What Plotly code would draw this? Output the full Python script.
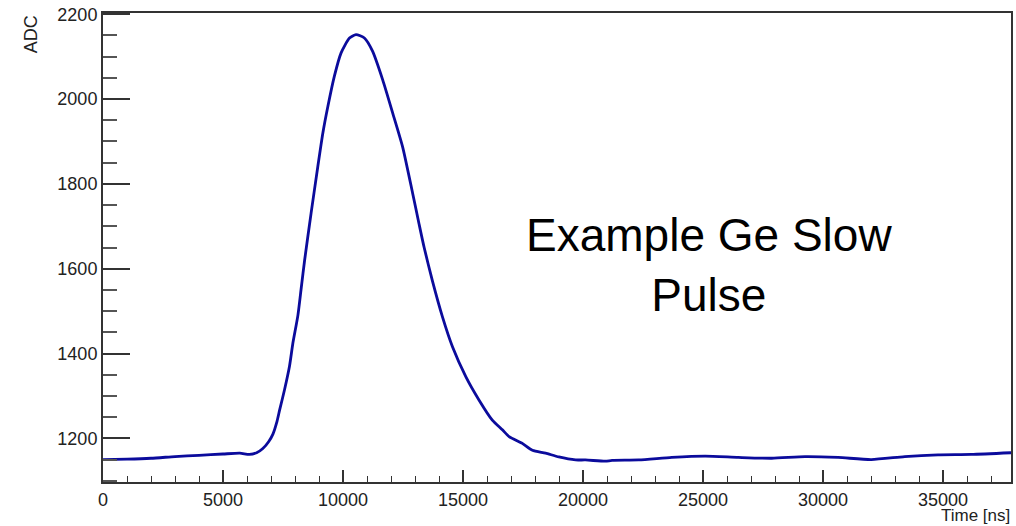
import plotly.graph_objects as go

time_ns = [0, 1000, 2000, 3000, 4000, 5000, 5700, 6100, 6400, 6660, 6900, 7080, 7250, 7360,
           7560, 7770, 7910, 8120, 8260, 8400, 8670, 8950, 9160, 9370, 9640, 9920, 10270,
           10540, 10890, 11230, 11650, 12070, 12480, 12900, 13170, 13380, 13730, 14140,
           14560, 15120, 15670, 16220, 16640, 16920, 17470, 17890, 18440, 18990, 19690,
           20100, 20930, 21210, 22320, 23700, 25090, 26470, 27860, 29250, 30630, 32010,
           33400, 34790, 36170, 37830]
adc = [1150, 1151, 1153, 1157, 1160, 1163, 1165, 1162, 1166, 1176, 1192, 1210, 1240, 1267,
       1314, 1370, 1424, 1490, 1555, 1620, 1731, 1841, 1920, 1983, 2054, 2109, 2144,
       2152, 2144, 2113, 2046, 1967, 1888, 1778, 1705, 1650, 1570, 1487,
       1416, 1345, 1290, 1243, 1220, 1204, 1188, 1172, 1165, 1156, 1149,
       1149, 1146, 1148, 1149, 1155, 1158, 1155, 1153, 1157, 1155, 1150,
       1157, 1161, 1162, 1166]

x_range = [0, 37830]
y_range = [1097, 2203]
y_tick_vals = [1200, 1400, 1600, 1800, 2000, 2200]
x_tick_vals = [0, 5000, 10000, 15000, 20000, 25000, 30000, 35000]

FONT = "Liberation Sans, Arial, sans-serif"

fig = go.Figure()
fig.add_trace(go.Scatter(x=time_ns, y=adc, mode="lines",
                         line=dict(color="#0b0b9c", width=2.8, shape="spline", smoothing=0.6),
                         showlegend=False, hoverinfo="skip"))

fig.update_layout(
    width=1016, height=526,
    margin=dict(l=103, r=3, t=13, b=44),
    paper_bgcolor="white", plot_bgcolor="white",
    font=dict(family=FONT, color="#222222", size=18),
    xaxis=dict(range=x_range, tickvals=x_tick_vals, ticktext=[str(v) for v in x_tick_vals],
               ticks="inside", ticklen=12, tickwidth=1.5, tickcolor="#333333",
               minor=dict(ticks="inside", ticklen=6, dtick=1000, tick0=0, tickcolor="#333333", tickwidth=1.2),
               showline=True, linecolor="#333333", linewidth=2, mirror=True,
               showgrid=False, zeroline=False, tickfont=dict(size=18)),
    yaxis=dict(range=y_range, tickvals=y_tick_vals, ticktext=[str(v) for v in y_tick_vals],
               ticks="inside", ticklen=27, tickwidth=1.5, tickcolor="#333333",
               minor=dict(ticks="inside", ticklen=14, dtick=50, tick0=1200, tickcolor="#555555", tickwidth=1.5),
               showline=True, linecolor="#333333", linewidth=2, mirror=True,
               showgrid=False, zeroline=False, tickfont=dict(size=18)),
    annotations=[
        dict(text="ADC", xref="paper", yref="paper", x=-0.079, y=1.0, xanchor="center", yanchor="top",
             textangle=-90, showarrow=False, font=dict(size=18, color="#222222", family=FONT)),
        dict(text="Time [ns]", xref="paper", yref="paper", x=1.0, y=-0.0938, xanchor="right", yanchor="bottom",
             showarrow=False, borderpad=0, font=dict(size=17, color="#222222", family=FONT)),
        dict(text="Example Ge Slow<br>Pulse", xref="paper", yref="paper", x=0.667, y=0.462,
             xanchor="center", yanchor="middle", showarrow=False, align="center",
             font=dict(size=46, color="black", family=FONT)),
    ],
)

fig.write_html("out.html")
